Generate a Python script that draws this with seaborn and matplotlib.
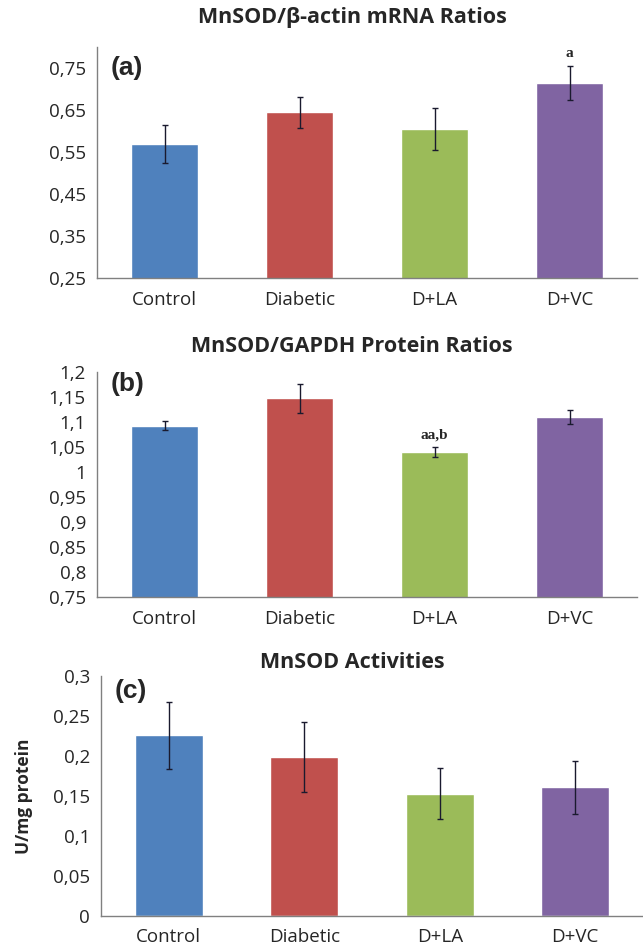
import matplotlib
matplotlib.use('Agg')
import matplotlib.pyplot as plt
import seaborn as sns
from matplotlib.ticker import FuncFormatter

groups = ['Control', 'Diabetic', 'D+LA', 'D+VC']
colors = ['#4F81BD', '#C0504D', '#9BBB59', '#8064A2']

mrna_mean = [0.570, 0.645, 0.605, 0.715]
mrna_err = [0.045, 0.037, 0.050, 0.040]

protein_mean = [1.093, 1.148, 1.040, 1.110]
protein_err = [0.009, 0.029, 0.010, 0.015]

activity_mean = [0.226, 0.199, 0.153, 0.161]
activity_err = [0.042, 0.044, 0.032, 0.033]

mrna_ticks = [0.25, 0.35, 0.45, 0.55, 0.65, 0.75]
protein_ticks = [0.75, 0.8, 0.85, 0.9, 0.95, 1.0, 1.05, 1.1, 1.15, 1.2]
activity_ticks = [0, 0.05, 0.1, 0.15, 0.2, 0.25, 0.3]

sns.set_style('white')
plt.rcParams['font.family'] = ['Open Sans', 'DejaVu Sans']

W, H = 643, 948
fig = plt.figure(figsize=(W / 100, H / 100), dpi=100)


def comma(v, pos):
    return f'{v:g}'.replace('.', ',')


def panel(box, means, errs, ticks, ylim, title, title_y, label, label_y, notes):
    left, top, right, bottom = box
    ax = fig.add_axes([left / W, 1 - bottom / H, (right - left) / W, (bottom - top) / H])
    sns.barplot(x=groups, y=means, hue=groups, palette=colors, width=0.5,
                legend=False, ax=ax, saturation=1)
    ax.errorbar(x=range(len(groups)), y=means, yerr=errs, fmt='none',
                ecolor='#1a1a2e', elinewidth=1, capsize=2.5, capthick=1)
    ax.set_xlim(-0.5, 3.5)
    ax.set_ylim(*ylim)
    ax.set_yticks(ticks)
    ax.yaxis.set_major_formatter(FuncFormatter(comma))
    ax.tick_params(axis='y', length=4, width=0.8, color='#808080', labelsize=13.5, pad=4)
    ax.tick_params(axis='x', length=0, labelsize=13.5, pad=9)
    for s in ['top', 'right']:
        ax.spines[s].set_visible(False)
    for s in ['left', 'bottom']:
        ax.spines[s].set_color('#808080')
        ax.spines[s].set_linewidth(1)
    ax.set_ylabel('')
    ax.set_xlabel('')
    fig.text(352 / W, 1 - title_y / H, title, ha='center', va='center',
             fontsize=15.5, fontweight='bold')
    fig.text((left + 14) / W, 1 - label_y / H, label, ha='left', va='center',
             fontsize=19, fontweight='bold', family=['Liberation Sans', 'DejaVu Sans'])
    for i, txt in notes:
        ax.annotate(txt, (i, means[i] + errs[i]), xytext=(0, 4), textcoords='offset points',
                    ha='center', va='bottom', fontsize=11, fontweight='bold',
                    family=['Liberation Serif', 'DejaVu Serif'])
    return ax


panel((97, 47, 637, 278), mrna_mean, mrna_err, mrna_ticks, (0.25, 0.80),
      'MnSOD/\u03b2-actin mRNA Ratios', 18, '(a)', 68, [(3, 'a')])
panel((97, 372, 637, 597), protein_mean, protein_err, protein_ticks, (0.75, 1.2),
      'MnSOD/GAPDH Protein Ratios', 347, '(b)', 384, [(2, 'aa,b')])
ax_c = panel((101, 676, 643, 916), activity_mean, activity_err, activity_ticks, (0, 0.3),
             'MnSOD Activities', 663, '(c)', 691, [])
ax_c.set_ylabel('U/mg protein', fontsize=12.5, fontweight='bold')
ax_c.yaxis.set_label_coords(-68 / 542, 0.5)

fig.savefig('out.png', dpi=100)
